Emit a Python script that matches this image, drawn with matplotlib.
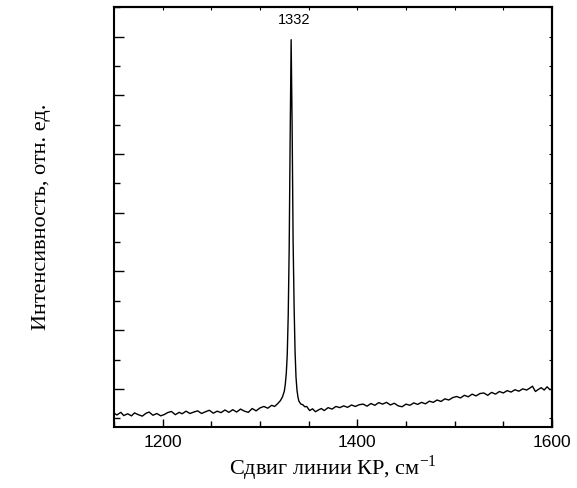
import matplotlib
matplotlib.use("Agg")
import matplotlib.pyplot as plt
from matplotlib.ticker import MultipleLocator, NullFormatter

# Raman spectrum (wavenumber, cm^-1) and intensity (arb. units)
shift = [1150, 1153, 1157, 1160, 1164, 1168, 1171, 1175, 1179, 1183, 1186, 1190,
         1194, 1198, 1202, 1205, 1209, 1213, 1217, 1220, 1224, 1228, 1232, 1236,
         1240, 1244, 1248, 1252, 1256, 1260, 1264, 1268, 1272, 1276, 1280, 1284,
         1288, 1292, 1296, 1300, 1304, 1308, 1312, 1315, 1318, 1321, 1323, 1325,
         1326, 1327, 1328, 1329, 1330, 1331, 1332, 1333, 1334, 1335, 1336, 1337,
         1338, 1339, 1340, 1342, 1344, 1346, 1348, 1351, 1354, 1357, 1360, 1363,
         1366, 1370, 1374, 1378, 1382, 1386, 1390, 1394, 1398, 1402, 1406, 1410,
         1414, 1418, 1422, 1426, 1430, 1434, 1438, 1442, 1446, 1450, 1454, 1458,
         1462, 1466, 1470, 1474, 1478, 1482, 1486, 1490, 1494, 1498, 1502, 1506,
         1510, 1514, 1518, 1522, 1526, 1530, 1534, 1538, 1542, 1546, 1550, 1554,
         1558, 1562, 1566, 1570, 1574, 1577, 1580, 1583, 1586, 1589, 1592, 1595,
         1598, 1600]
intensity = [585, 555, 600, 545, 575, 540, 590, 560, 535, 585, 605, 550,
             580, 540, 565, 595, 615, 560, 600, 575, 620, 580, 605, 625,
             580, 610, 635, 585, 620, 595, 640, 600, 645, 605, 655, 620,
             600, 665, 625, 675, 700, 670, 720, 700, 745, 800, 860, 960,
             1080, 1260, 1580, 2250, 3400, 5300, 6950, 5500, 3550, 2450, 1650, 1200,
             980, 860, 790, 740, 730, 695, 700, 630, 660, 610, 640, 665,
             630, 680, 655, 700, 680, 710, 685, 725, 700, 730, 740, 705,
             750, 720, 765, 740, 770, 725, 755, 710, 695, 740, 720, 760,
             735, 770, 745, 790, 770, 810, 785, 830, 810, 850, 870, 845,
             890, 865, 910, 880, 920, 930, 890, 940, 910, 955, 930, 970,
             945, 985, 960, 1000, 980, 1010, 1045, 955, 990, 1020, 980, 1035,
             985, 1000]

peak_label = "1332"

fig = plt.figure(figsize=(5.77, 4.88), dpi=100)
ax = fig.add_axes([0.1976, 0.125, 0.759, 0.861])

ax.plot(shift, intensity, color="black", linewidth=1.0)

ax.set_xlim(1150, 1600)
ax.set_ylim(350, 7510)

ax.xaxis.set_major_locator(MultipleLocator(200))
ax.xaxis.set_minor_locator(MultipleLocator(50))
ax.yaxis.set_major_locator(MultipleLocator(1000))
ax.yaxis.set_minor_locator(MultipleLocator(500))
ax.yaxis.set_major_formatter(NullFormatter())

ax.tick_params(which="both", direction="in", top=False, right=False)
ax.tick_params(which="major", axis="x", length=6, width=1.0, labelsize=12.5, pad=6)
ax.tick_params(which="minor", axis="x", length=4, width=1.0)
ax.tick_params(which="major", axis="y", length=7, width=1.0)
ax.tick_params(which="minor", axis="y", length=4, width=1.0)
for t in ax.get_xticklabels():
    t.set_family("Liberation Sans")

# short ticks on the top and right frame
top = ax.secondary_xaxis("top")
top.xaxis.set_major_locator(MultipleLocator(50))
top.tick_params(direction="in", length=2, width=0.8, labeltop=False)
right = ax.secondary_yaxis("right")
right.yaxis.set_major_locator(MultipleLocator(500))
right.tick_params(direction="in", length=2, width=0.8, labelright=False)

for s in ax.spines.values():
    s.set_linewidth(1.5)
top.spines["top"].set_linewidth(1.5)
right.spines["right"].set_linewidth(1.5)

ax.annotate(peak_label, xy=(1332, 6950), xytext=(1335, 7290),
            ha="center", va="center", fontsize=10.5, family="Liberation Sans")

ax.set_xlabel("Сдвиг линии КР, см$^{\\mathregular{-1}}$", family="Liberation Serif",
              fontsize=16, labelpad=2)
ax.set_ylabel("Интенсивность, отн. ед.", family="Liberation Serif",
              fontsize=16, labelpad=42)

fig.savefig("out.png", dpi=100)
